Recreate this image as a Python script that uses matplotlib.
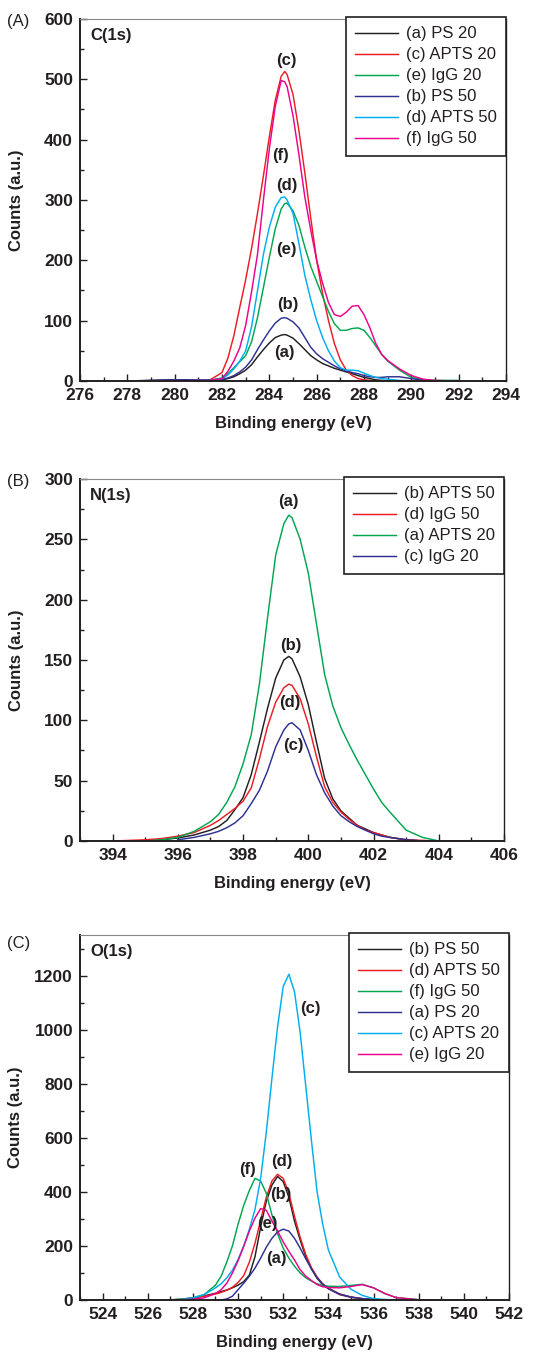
import numpy as np
import matplotlib
matplotlib.use("Agg")
import matplotlib.pyplot as plt
from matplotlib.ticker import MultipleLocator

plt.rcParams['font.family'] = ['Liberation Sans', 'DejaVu Sans']
n = np.nan

# ---- (A) C(1s) ----
c_energy = [278, 279, 280, 281, 281.5, 282, 282.25, 282.5, 282.75, 283, 283.25, 283.5, 283.75,
            284, 284.25, 284.5, 284.65, 284.75, 285, 285.25, 285.5, 285.75, 286, 286.25, 286.5,
            286.75, 287, 287.25, 287.5, 287.75, 288, 288.25, 288.5, 288.75, 289, 289.5, 290,
            290.5, 291, 292]
c_ps20 = [0, 1, 2, 2, 2, 2, 4, 7, 12, 18, 27, 40, 52, 63, 72, 76, 77, 76, 71, 62, 52, 42, 35, 29,
          25, 21, 18, 15, 12, 9, 6, 4, 2, 1, 0, 0, n, n, n, n]
c_apts20 = [0, 0, 0, 1, 2, 14, 38, 75, 122, 168, 220, 278, 340, 405, 465, 505, 513, 508, 475, 415,
            345, 270, 200, 145, 100, 62, 35, 18, 9, 4, 2, 1, 0, 0, 0, 0, 0, n, n, n]
c_igg20 = [0, 0, 0, 1, 1, 5, 12, 22, 32, 42, 65, 105, 155, 205, 252, 285, 294, 295, 282, 258, 222,
           190, 165, 140, 115, 95, 84, 84, 87, 88, 84, 72, 58, 44, 33, 18, 6, 2, 1, 1]
c_ps50 = [0, 1, 2, 2, 2, 3, 5, 9, 15, 23, 35, 52, 68, 83, 96, 104, 105, 104, 98, 88, 72, 56, 45,
          37, 31, 25, 20, 17, 14, 12, 9, 7, 6, 6, 7, 7, 4, 1, 0, n]
c_apts50 = [0, 0, 0, 1, 1, 4, 10, 20, 33, 50, 90, 150, 210, 255, 288, 304, 305, 300, 278, 228, 175,
            135, 100, 72, 50, 33, 22, 18, 18, 17, 13, 9, 6, 4, 3, 1, 0, n, n, n]
c_igg50 = [0, 0, 0, 1, 1, 4, 16, 33, 55, 92, 148, 210, 300, 385, 455, 498, 496, 488, 440, 375, 305,
           250, 200, 162, 130, 110, 107, 114, 124, 125, 110, 88, 62, 44, 34, 20, 9, 3, 1, 0]

# ---- (B) N(1s) ----
n_energy = [394, 395, 395.5, 396, 396.5, 397, 397.25, 397.5, 397.75, 398, 398.25, 398.5, 398.75,
            399, 399.25, 399.4, 399.5, 399.75, 400, 400.25, 400.5, 400.75, 401, 401.25, 401.5,
            401.75, 402, 402.25, 402.5, 403, 403.5, 404, 405]
n_apts50 = [n, 0, 1, 2.5, 5, 9, 12, 17, 26, 36, 55, 82, 110, 135, 150, 153, 151, 136, 113, 82, 52,
            35, 25, 19, 13, 10, 7, 5, 3, 1, 0, n, n]
n_igg50 = [0, 1, 2, 4, 7, 13, 17, 22, 27, 33, 44, 68, 95, 115, 127, 130, 129, 118, 97, 70, 45, 32,
           24, 18, 13, 9, 7, 5, 3, 1, 0.5, 0, 0]
n_apts20 = [n, 0, 1, 3, 8, 16, 22, 32, 45, 64, 88, 130, 185, 237, 263, 270, 268, 250, 222, 180, 138,
            112, 94, 80, 67, 55, 43, 32, 24, 9, 3, 0, n]
n_igg20 = [n, n, n, 1, 3, 6, 8, 11, 15, 21, 31, 42, 58, 78, 92, 97, 98, 92, 75, 55, 40, 29, 21, 16,
           12, 9, 6, 4, 3, 1, 0, n, n]

# ---- (C) O(1s) ----
o_energy = [525, 526, 527, 527.5, 528, 528.5, 529, 529.25, 529.5, 529.75, 530, 530.25, 530.5,
            530.75, 531, 531.25, 531.5, 531.75, 532, 532.25, 532.5, 532.75, 533, 533.25, 533.5,
            533.75, 534, 534.5, 535, 535.5, 536, 536.5, 537, 538, 539, 540]
o_ps50 = [n, n, 0, 2, 7, 15, 25, 31, 37, 45, 55, 68, 92, 160, 270, 365, 425, 457, 438, 380, 292,
          222, 160, 115, 80, 57, 42, 20, 10, 5, 2, 0, n, n, n, n]
o_apts50 = [n, n, 0, 3, 8, 14, 22, 28, 36, 47, 65, 90, 140, 210, 295, 380, 440, 465, 450, 395, 310,
            232, 168, 120, 85, 60, 44, 22, 11, 5, 2, 0, n, n, n, n]
o_igg50 = [0, 0, 1, 3, 8, 20, 55, 88, 140, 200, 280, 350, 405, 450, 440, 395, 315, 245, 192, 155,
           125, 100, 82, 70, 60, 54, 51, 50, 54, 58, 45, 24, 9, 1, 0, 0]
o_ps20 = [n, n, n, n, n, n, n, 0, 4, 14, 38, 62, 88, 118, 155, 195, 228, 252, 262, 255, 228, 192,
          152, 115, 83, 58, 42, 22, 11, 5, 2, 0, n, n, n, n]
o_apts20 = [n, n, 0, 2, 8, 20, 45, 60, 82, 110, 150, 200, 262, 335, 450, 620, 820, 1010, 1160, 1205,
            1140, 990, 790, 590, 400, 280, 185, 85, 40, 17, 5, 2, 0, n, n, n]
o_igg20 = [n, n, 0, 1, 3, 8, 24, 38, 62, 100, 145, 198, 255, 303, 338, 332, 292, 255, 215, 180, 148,
           112, 88, 72, 57, 49, 46, 45, 50, 57, 45, 24, 9, 1, 0, n]

BLK, RED, GRN, BLU, CYN, MAG = '#231f20', '#ed1c24', '#00a651', '#2e3192', '#00aeef', '#ec008c'
INK = '#231f20'

fig = plt.figure(figsize=(5.6, 13.56), dpi=100)
W, H = 560, 1356


def make_axes(l, t, r, b):
    return fig.add_axes([l / W, 1 - b / H, (r - l) / W, (b - t) / H])


def style(ax, xlim, ylim, xmaj, ymaj, ymin, title):
    ax.set_xlim(*xlim)
    ax.set_ylim(*ylim)
    ax.xaxis.set_major_locator(MultipleLocator(xmaj))
    ax.xaxis.set_minor_locator(MultipleLocator(1))
    ax.yaxis.set_major_locator(MultipleLocator(ymaj))
    ax.yaxis.set_minor_locator(MultipleLocator(ymin))
    ax.tick_params(which='both', direction='in', top=False, right=False, colors=INK, width=1)
    ax.tick_params(which='major', length=5, pad=5, labelsize=12.5)
    ax.tick_params(which='minor', length=3)
    for lab in ax.get_xticklabels() + ax.get_yticklabels():
        lab.set_fontweight('bold')
    for s in ['left', 'bottom']:
        ax.spines[s].set_linewidth(1.4)
        ax.spines[s].set_color(INK)
    ax.spines['right'].set_linewidth(1.0)
    ax.spines['right'].set_color(INK)
    ax.spines['top'].set_linewidth(0.8)
    ax.spines['top'].set_color('#888888')
    ax.set_ylabel('Counts (a.u.)', fontsize=12, fontweight='bold', color=INK)
    ax.set_xlabel('Binding energy (eV)', fontsize=12, fontweight='bold', color=INK)
    ax.yaxis.set_label_coords(-0.132, 0.5)
    ax.xaxis.set_label_coords(0.5, -0.097)
    ax.text(0.024, 0.975, title, transform=ax.transAxes, ha='left', va='top',
            fontsize=12, fontweight='bold', color=INK)
    leg = ax.legend(loc='upper right', bbox_to_anchor=(1.0, 1.005), borderaxespad=0,
                    fontsize=12, fancybox=False, framealpha=1, edgecolor=INK,
                    handlelength=2.6, handletextpad=0.45, labelspacing=0.36, borderpad=0.55)
    leg.get_frame().set_linewidth(1.2)
    for t in leg.get_texts():
        t.set_color(INK)


def tag(ax, x, y, s):
    ax.text(x, y, s, ha='center', va='center', fontsize=12, fontweight='bold', color=INK)


lw = 1.05

# (A)
axA = make_axes(80, 19, 506, 381)
axA.plot(c_energy, c_ps20, color=BLK, lw=lw, label='(a) PS 20')
axA.plot(c_energy, c_apts20, color=RED, lw=lw, label='(c) APTS 20')
axA.plot(c_energy, c_igg20, color=GRN, lw=lw, label='(e) IgG 20')
axA.plot(c_energy, c_ps50, color=BLU, lw=lw, label='(b) PS 50')
axA.plot(c_energy, c_apts50, color=CYN, lw=lw, label='(d) APTS 50')
axA.plot(c_energy, c_igg50, color=MAG, lw=lw, label='(f) IgG 50')
style(axA, (276, 294), (0, 600), 2, 100, 50, 'C(1s)')
tag(axA, 284.72, 531, '(c)')
tag(axA, 284.48, 374, '(f)')
tag(axA, 284.72, 324, '(d)')
tag(axA, 284.72, 218, '(e)')
tag(axA, 284.78, 127, '(b)')
tag(axA, 284.62, 47, '(a)')

# (B)
axB = make_axes(80, 479, 504, 841)
axB.plot(n_energy, n_apts50, color=BLK, lw=lw, label='(b) APTS 50')
axB.plot(n_energy, n_igg50, color=RED, lw=lw, label='(d) IgG 50')
axB.plot(n_energy, n_apts20, color=GRN, lw=lw, label='(a) APTS 20')
axB.plot(n_energy, n_igg20, color=BLU, lw=lw, label='(c) IgG 20')
style(axB, (393, 406), (0, 300), 2, 50, 25, 'N(1s)')
tag(axB, 399.4, 281, '(a)')
tag(axB, 399.46, 162, '(b)')
tag(axB, 399.44, 115, '(d)')
tag(axB, 399.53, 79, '(c)')

# (C)
axC = make_axes(80, 935, 509, 1300)
axC.plot(o_energy, o_ps50, color=BLK, lw=lw, label='(b) PS 50')
axC.plot(o_energy, o_apts50, color=RED, lw=lw, label='(d) APTS 50')
axC.plot(o_energy, o_igg50, color=GRN, lw=lw, label='(f) IgG 50')
axC.plot(o_energy, o_ps20, color=BLU, lw=lw, label='(a) PS 20')
axC.plot(o_energy, o_apts20, color=CYN, lw=lw, label='(c) APTS 20')
axC.plot(o_energy, o_igg20, color=MAG, lw=lw, label='(e) IgG 20')
style(axC, (523, 542), (0, 1350), 2, 200, 100, 'O(1s)')
tag(axC, 533.2, 1079, '(c)')
tag(axC, 531.92, 514, '(d)')
tag(axC, 530.4, 484, '(f)')
tag(axC, 531.88, 391, '(b)')
tag(axC, 531.3, 284, '(e)')
tag(axC, 531.7, 154, '(a)')

for y, s in [(14, '(A)'), (474, '(B)'), (936, '(C)')]:
    fig.text(7 / W, 1 - y / H, s, ha='left', va='top', fontsize=12, color=INK)

fig.savefig('out.png', dpi=100)
